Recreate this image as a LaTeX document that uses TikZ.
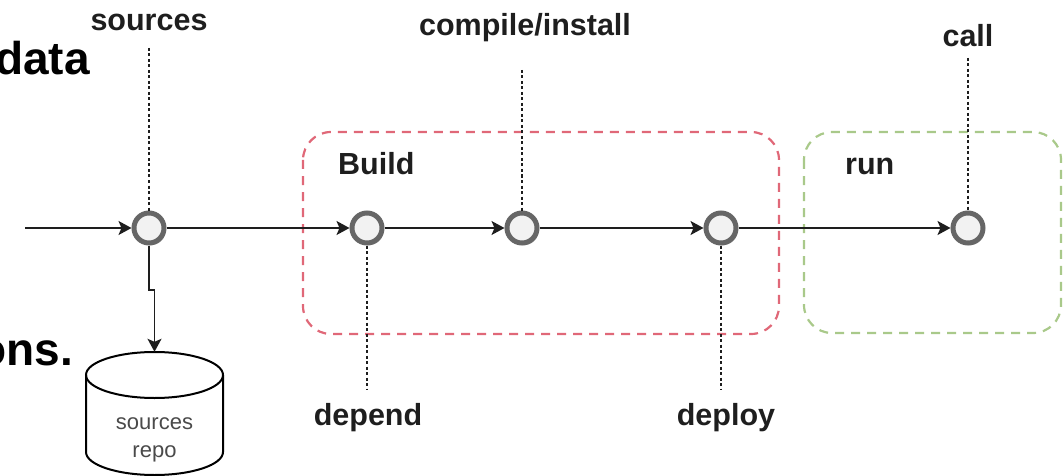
\documentclass[tikz,border=0pt]{standalone}
\usepackage{fontspec}
\setmainfont{Liberation Sans}
\usetikzlibrary{arrows.meta,shadows}
\definecolor{ink}{HTML}{1E1E1E}
\definecolor{ring}{HTML}{666666}
\definecolor{ringfill}{HTML}{F2F2F2}
\definecolor{buildred}{HTML}{E06878}
\definecolor{rungreen}{HTML}{A9C98A}
\definecolor{repotext}{HTML}{4A4A4A}

\begin{document}
\begin{tikzpicture}[x=1pt,y=-1pt,
  event/.style={circle, minimum size=30pt, inner sep=0pt, draw=ring, line width=5pt,
    fill=ringfill, drop shadow={shadow xshift=1.8pt, shadow yshift=-2.2pt, opacity=0.35, fill=black}},
  flow/.style={draw=ink, line width=1.6pt, -{Stealth[length=13pt,width=14pt,inset=3pt]}},
  guide/.style={draw=ink, line width=1.1pt, dash pattern=on 3pt off 2.5pt},
  tag/.style={font=\fontsize{30.5}{34}\selectfont\bfseries, text=ink, inner sep=0pt},
  big/.style={font=\fontsize{46}{50}\selectfont\bfseries, text=black, inner sep=0pt},
  stage/.style={line width=2.2pt, dash pattern=on 9pt off 7pt, rounded corners=28pt},
  repolabel/.style={font=\fontsize{22}{26}\selectfont, text=repotext, inner sep=0pt},
]
\clip (0,0) rectangle (1063,476);

% text running in from the page behind
\node[big, anchor=base east] (bgData) at (90,75) {data};
\node[big, anchor=base east] (bgOns) at (73,365) {ons.};

% stage frames
\draw[stage, draw=buildred] (303,132) rectangle (779,334);
\draw[stage, draw=rungreen] (804,132) rectangle (1061,333);
\node[tag, anchor=base west] (buildLbl) at (338,175) {Build};
\node[tag, anchor=base west] (runLbl) at (845,175) {run};

% sources repository
\node[minimum width=137pt, minimum height=123pt, inner sep=0pt] (repo) at (154.5,413.5) {};
\draw[line width=2pt, fill=white] (86,375) -- (86,452)
  arc[start angle=180, end angle=360, x radius=68.5pt, y radius=23pt] -- (223,375);
\draw[line width=2pt] (154.5,375) ellipse [x radius=68.5pt, y radius=23pt];
\node[repolabel, anchor=base] (repoA) at (154.5,429) {sources};
\node[repolabel, anchor=base] (repoB) at (154.5,457) {repo};

% events
\node[event] (src)  at (149,228) {};
\node[event] (dep)  at (367,228) {};
\node[event] (comp) at (522,228) {};
\node[event] (depl) at (721,228) {};
\node[event] (call) at (968,228) {};

% event labels
\node[tag, anchor=base] (srcLbl)  at (149,31) {sources};
\node[tag, anchor=base] (compLbl) at (525,36) {compile/install};
\node[tag, anchor=base] (callLbl) at (968,47) {call};
\node[tag, anchor=base] (depLbl)  at (368,425) {depend};
\node[tag, anchor=base] (deplLbl) at (726,425) {deploy};

\coordinate (srcTop)  at (149,48);
\coordinate (compTop) at (522,70);
\coordinate (callTop) at (968,58);
\coordinate (depBot)  at (367,390);
\coordinate (deplBot) at (721,390);
\draw[guide] (srcTop) -- (src);
\draw[guide] (compTop) -- (comp);
\draw[guide] (callTop) -- (call);
\draw[guide] (dep) -- (depBot);
\draw[guide] (depl) -- (deplBot);

% flow
\coordinate (in) at (25,228);
\coordinate (jog) at (154.5,290);
\draw[flow] (in) -- (src);
\draw[flow] (src) -- (dep);
\draw[flow] (dep) -- (comp);
\draw[flow] (comp) -- (depl);
\draw[flow] (depl) -- (call);
\draw[flow] (src.south) |- (jog) -- (repo.north);
\end{tikzpicture}
\end{document}
